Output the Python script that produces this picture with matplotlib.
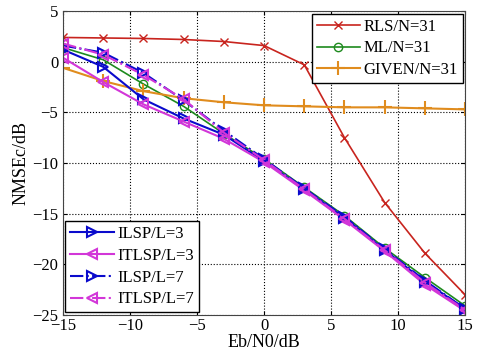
import matplotlib
matplotlib.use('Agg')
import matplotlib.pyplot as plt

plt.rcParams['font.family'] = ['Liberation Serif', 'DejaVu Serif']
plt.rcParams['mathtext.fontset'] = 'stix'

ebn0 = [-15, -12, -9, -6, -3, 0, 3, 6, 9, 12, 15]

rls = [2.4, 2.35, 2.3, 2.2, 2.0, 1.6, -0.3, -7.5, -13.9, -18.9, -23.0]
ml = [1.4, 0.2, -2.2, -4.4, -7.1, -9.6, -12.4, -15.2, -18.4, -21.3, -24.1]
given = [-0.6, -1.9, -2.9, -3.6, -4.0, -4.3, -4.4, -4.5, -4.5, -4.6, -4.7]
ilsp3 = [1.2, -0.5, -3.7, -5.6, -7.2, -9.8, -12.6, -15.4, -18.6, -21.7, -24.4]
itlsp3 = [0.4, -2.0, -4.2, -5.9, -7.6, -9.9, -12.7, -15.6, -18.7, -22.0, -24.6]
ilsp7 = [1.6, 0.9, -1.1, -3.8, -6.8, -9.6, -12.5, -15.3, -18.5, -21.6, -24.4]
itlsp7 = [1.8, 0.7, -1.3, -3.7, -7.0, -9.7, -12.6, -15.5, -18.6, -21.8, -24.5]

fig = plt.figure(figsize=(4.79, 3.59), dpi=100)
ax = fig.add_axes([0.1315, 0.1226, 0.8395, 0.8464])

red = '#C8241E'
green = '#1E8A1E'
orange = '#E08C1E'
blue = '#0A0ACC'
magenta = '#D236D8'

l_rls, = ax.plot(ebn0, rls, color=red, marker='x', ms=6, lw=1.2, label='RLS/N=31')
l_ml, = ax.plot(ebn0, ml, color=green, marker='o', mfc='none', ms=6, lw=1.2, label='ML/N=31')
l_given, = ax.plot(ebn0, given, color=orange, marker='+', ms=10, mew=1.5, lw=1.5, label='GIVEN/N=31')
l_i3, = ax.plot(ebn0, ilsp3, color=blue, marker='>', mfc='none', ms=7, mew=1.5, lw=1.5, label='ILSP/L=3')
l_t3, = ax.plot(ebn0, itlsp3, color=magenta, marker='<', mfc='none', ms=7, mew=1.5, lw=1.5, label='ITLSP/L=3')
l_i7, = ax.plot(ebn0, ilsp7, color=blue, marker='>', mfc='none', ms=7, mew=1.5, lw=1.5, ls='-.', label='ILSP/L=7')
l_t7, = ax.plot(ebn0, itlsp7, color=magenta, marker='<', mfc='none', ms=7, mew=1.5, lw=1.5, ls='-.', label='ITLSP/L=7')

ax.set_xlim(-15, 15)
ax.set_ylim(-25, 5)
ax.set_xticks(range(-15, 16, 5))
ax.set_yticks(range(-25, 6, 5))
ax.grid(True, color='black', ls=':', lw=0.8)
ax.tick_params(labelsize=12, direction='in', length=3, top=True, right=True)
ax.tick_params(axis='x', pad=2)
for s in ax.spines.values():
    s.set_color('#444444')

ax.set_xlabel('Eb/N0/dB', fontsize=13, labelpad=0)
ax.set_ylabel('NMSEc/dB', fontsize=13, labelpad=2)

leg1 = ax.legend(handles=[l_rls, l_ml, l_given], loc='upper right', fontsize=12,
                 fancybox=False, framealpha=1, edgecolor='black',
                 borderpad=0.3, labelspacing=0.35, handlelength=2.6, handletextpad=0.2,
                 borderaxespad=0.15)
leg1.get_frame().set_linewidth(1.0)
ax.add_artist(leg1)
leg2 = ax.legend(handles=[l_i3, l_t3, l_i7, l_t7], loc='lower left', fontsize=12,
                 fancybox=False, framealpha=1, edgecolor='black',
                 borderpad=0.3, labelspacing=0.35, handlelength=2.6, handletextpad=0.2,
                 borderaxespad=0.15)
leg2.get_frame().set_linewidth(1.0)

fig.savefig('out.png', dpi=100)
